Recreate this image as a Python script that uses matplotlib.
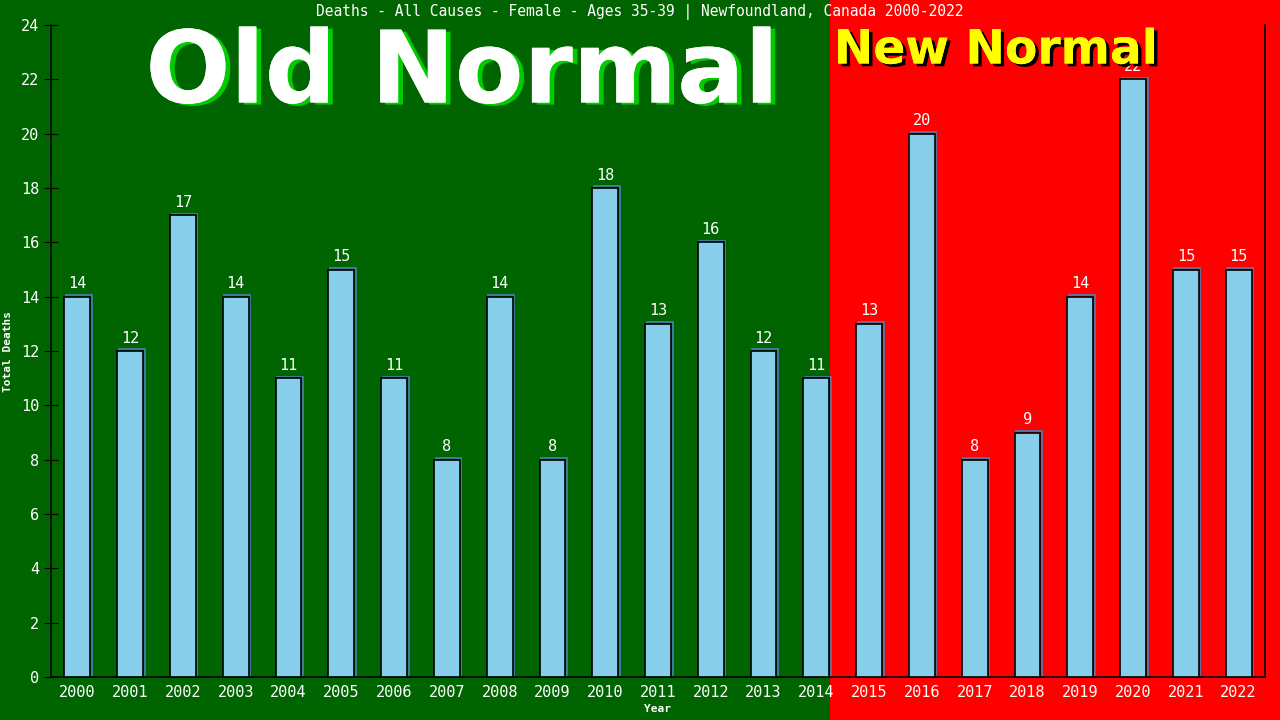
import matplotlib.pyplot as plt
from matplotlib.patches import Rectangle
import matplotlib.patheffects as pe

years = list(range(2000, 2023))
deaths = [14, 12, 17, 14, 11, 15, 11, 8, 14, 8, 18, 13, 16, 12, 11,
          13, 20, 8, 9, 14, 22, 15, 15]
year_labels = [str(y) for y in years]
new_normal_start = 2015

GREEN = "#006400"
RED = "#ff0000"
BAR = "#87ceeb"
MONO = "DejaVu Sans Mono"

fig = plt.figure(figsize=(12.8, 7.2), dpi=100, facecolor=GREEN)
ax = fig.add_axes([51 / 1280, 43 / 720, 1214 / 1280, 652 / 720])
ax.set_facecolor("none")

x = list(range(len(years)))
split = years.index(new_normal_start) - 0.75

ax.set_xlim(-0.5, len(years) - 0.5)
ax.set_ylim(0, 24)

# red "new normal" background, from just after the last old bar to the figure edge
fig_x0 = fig.transFigure.inverted().transform(ax.transData.transform((split, 0)))[0]
fig.add_artist(Rectangle((fig_x0, 0), 1 - fig_x0, 1, transform=fig.transFigure,
                         facecolor=RED, edgecolor="none", zorder=-10))

# shadow outline then the bar itself
ax.bar([i + 0.03 for i in x], [d + 0.06 for d in deaths], width=0.49,
       color="none", edgecolor="#4682b4", linewidth=1.2, zorder=2)
ax.bar(x, deaths, width=0.49, color=BAR, edgecolor="black", linewidth=1.2, zorder=3)

for i, d in zip(x, deaths):
    ax.text(i, d + 0.2, str(d), ha="center", va="bottom", color="white",
            fontsize=11, family=MONO, zorder=4)

ax.set_yticks(range(0, 25, 2))
ax.set_xticks(x)
ax.set_xticklabels(year_labels)
ax.tick_params(axis="y", direction="inout", length=10, colors="black",
               labelcolor="white", labelsize=11)
ax.tick_params(axis="x", length=0, labelcolor="white", labelsize=11, pad=6)
for lab in ax.get_xticklabels() + ax.get_yticklabels():
    lab.set_family(MONO)

ax.spines["top"].set_visible(False)
for s in ("left", "right", "bottom"):
    ax.spines[s].set_color("black")
    ax.spines[s].set_linewidth(1.2)

ax.set_xlabel("Year", color="white", fontsize=8, family=MONO, fontweight="bold", labelpad=3)
ax.set_ylabel("Total Deaths", color="white", fontsize=8, family=MONO, fontweight="bold", labelpad=6)

fig.text(0.5, 0.995, "Deaths - All Causes - Female - Ages 35-39 | Newfoundland, Canada 2000-2022",
         ha="center", va="top", color="white", fontsize=10.5, family=MONO)

fig.text(462 / 1280, 1 - 75 / 720, "Old Normal", ha="center", va="center",
         color="white", fontsize=72, fontweight="bold", family="DejaVu Sans",
         path_effects=[pe.withSimplePatchShadow(offset=(3.5, -1.5), shadow_rgbFace="#00cc00", alpha=1),
                       pe.Normal()])
fig.text(996 / 1280, 1 - 51 / 720, "New Normal", ha="center", va="center",
         color="#ffff00", fontsize=34, fontweight="bold", family="DejaVu Sans",
         path_effects=[pe.withSimplePatchShadow(offset=(2.5, -2), shadow_rgbFace="black", alpha=1),
                       pe.Normal()])

fig.savefig("out.png", dpi=100, facecolor=GREEN)
